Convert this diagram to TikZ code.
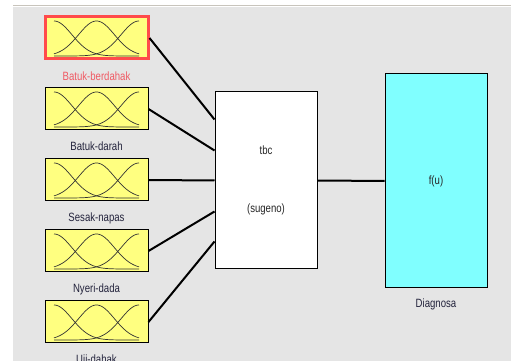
\documentclass[tikz,border=0pt]{standalone}
\usepackage{fontspec}
\setmainfont{Liberation Sans}[FakeStretch=0.8]
\definecolor{mfyellow}{RGB}{255,255,128}
\definecolor{outcyan}{RGB}{128,255,255}
\definecolor{panelgray}{RGB}{229,229,229}
\definecolor{edgegray}{RGB}{200,196,188}
\definecolor{selred}{RGB}{255,75,75}
\definecolor{lblred}{RGB}{240,90,100}
\definecolor{lbldark}{RGB}{35,35,60}

\tikzset{
	mfbox/.style={draw=black, line width=1pt, fill=mfyellow, minimum width=103pt, minimum height=42pt, inner sep=0pt,
		path picture={
			\begin{scope}[shift={(path picture bounding box.center)}]
			\foreach \c in {-42.5,0,42.5}
				\draw[line width=0.7pt, black!80] plot[domain=-42.5:42.5, samples=70, smooth] (\x, {-18+35*exp(-((\x-(\c))^2)/648)});
			\end{scope}}},
	mflabel/.style={inner sep=0pt, text height=9pt, text depth=2.5pt, text=lbldark, yshift=-10.5pt},
	wire/.style={line width=2pt, black}
}

\begin{document}
\begin{tikzpicture}[x=1pt, y=1pt, every node/.style={font=\fontsize{12}{14}\selectfont}]
	\useasboundingbox (0,0) rectangle (511,361);
	\fill[white] (0,0) rectangle (511,361);
	\fill[panelgray] (13,0) rectangle (511,354);
	\draw[edgegray, line width=1.5pt] (13,355.5)--(511,355.5);

	\node (in1) at (96.5,323)[mfbox, draw=selred, line width=3pt, label={[mflabel, text=lblred]below:Batuk-berdahak}] {};
	\node (in2) at (96.5,252)[mfbox, label={[mflabel]below:Batuk-darah}] {};
	\node (in3) at (96.5,181)[mfbox, label={[mflabel]below:Sesak-napas}] {};
	\node (in4) at (96.5,110)[mfbox, label={[mflabel]below:Nyeri-dada}] {};
	\node (in5) at (96.5,39)[mfbox, label={[mflabel]below:Uji-dahak}] {};

	\node (tbc) at (266,180.5)[draw, line width=1pt, fill=white, minimum width=102pt, minimum height=177pt, align=center, text=black!85] {tbc\\[44pt](sugeno)};
	\node (fu) at (436,180)[draw, line width=1pt, fill=outcyan, minimum width=102pt, minimum height=214pt, text=black!85, label={[mflabel, yshift=1pt]below:Diagnosa}] {f(u)};

	\draw[wire] (in1.east)--([yshift=61pt]tbc.west);
	\draw[wire] (in2.east)--([yshift=30pt]tbc.west);
	\draw[wire] (in3.east)--(tbc.west);
	\draw[wire] (in4.east)--([yshift=-31pt]tbc.west);
	\draw[wire] (in5.east)--([yshift=-61pt]tbc.west);
	\draw[wire] (tbc.east)--(fu.west);
\end{tikzpicture}
\end{document}
